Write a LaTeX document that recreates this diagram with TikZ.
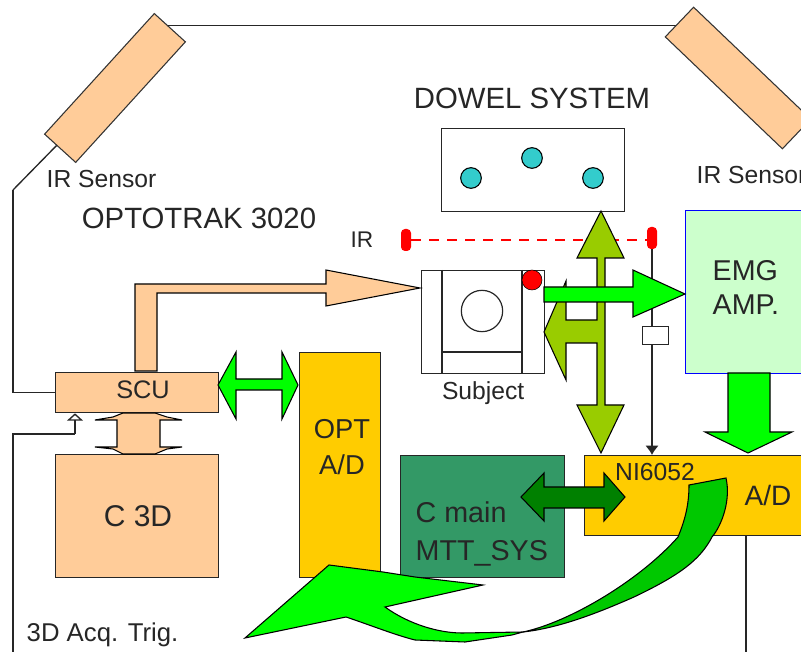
\documentclass[tikz,border=0pt]{standalone}
\usepackage{fontspec}
\setmainfont{Liberation Sans}
\usepackage{xcolor}
\usetikzlibrary{arrows.meta, positioning, calc}
\definecolor{peach}{HTML}{FFCC99}
\definecolor{goldbox}{HTML}{FFCC00}
\definecolor{seagreen}{HTML}{339966}
\definecolor{palegreen}{HTML}{CCFFCC}
\definecolor{limearrow}{HTML}{00FF00}
\definecolor{olivearrow}{HTML}{99CC00}
\definecolor{darkarrow}{HTML}{008000}
\definecolor{curvegreen}{HTML}{00C800}
\definecolor{dowel}{HTML}{33CCCC}
\begin{document}
\begin{tikzpicture}[
    x=0.75pt, y=-0.75pt,
    size/.style 2 args={minimum width=#1*0.75pt, minimum height=#2*0.75pt},
    box/.style={rectangle, draw=black!85, line width=1pt, anchor=north west, inner sep=0pt},
    sensor/.style={rectangle, draw=black!80, fill=peach, line width=0.8pt, inner sep=0pt},
    dot/.style={circle, draw=black, fill=dowel, line width=0.8pt, minimum size=15.5pt, inner sep=0pt},
    irdot/.style={rectangle, rounded corners=3pt, fill=red, size={10}{22}, inner sep=0pt},
    wire/.style={draw=black!85, line width=1pt},
    bigarrow/.style={draw=black, line width=0.8pt, line join=miter},
    label/.style={font=\fontsize{21}{26}\selectfont, text=black!85, align=center},
    small/.style={font=\fontsize{18.5}{22}\selectfont, text=black!85}
]
    \useasboundingbox (0,0) rectangle (801,652);

    % Frame wires
    \coordinate (frameB) at (13,190);
    \coordinate (frameC) at (60,142);
    \coordinate (frameD) at (160,25.5);
    \coordinate (frameE) at (690,25.5);
    \draw[wire] (frameD) -- (frameE);
    \draw[wire] (frameC) -- (frameB);

    % IR sensors
    \node[sensor, size={163}{42}, rotate=47.7] (sensorL) at (115,88) {};
    \node[sensor, size={162}{41}, rotate=-43.7] (sensorR) at (738,78) {};
    \node[small, anchor=west] (sensorLtxt) at (42,179) {IR Sensor};
    \node[small, anchor=west] (sensorRtxt) at (692,175) {IR Sensor};

    \node[label, font=\fontsize{22}{26}\selectfont] (optotrak) at (199,218) {OPTOTRAK 3020};
    \node[label, font=\fontsize{22}{26}\selectfont] (dowelTxt) at (532,98) {DOWEL SYSTEM};
    \node[small, font=\fontsize{17}{20}\selectfont] (irTxt) at (362,240) {IR};

    % Dowel system
    \node[box, size={183}{83}] (dowelBox) at (441,128) {};
    \foreach \px/\py/\pname in {471/178/dowelA, 532/158/dowelB, 593/178/dowelC}
        \node[dot] (\pname) at (\px,\py) {};

    % Boxes
    \node[box, fill=peach, size={163}{40}] (scu) at (55,372) {};
    \node[label, font=\fontsize{19}{22}\selectfont] (scuTxt) at (143,390) {SCU};
    \node[box, fill=peach, size={163}{123}] (c3d) at (55,454) {};
    \node[label, font=\fontsize{22.5}{26}\selectfont] (c3dTxt) at (138,516) {C 3D};
    \node[box, fill=goldbox, size={81}{225}] (optad) at (299,352) {};
    \node[label, font=\fontsize{20.5}{27}\selectfont] (optadTxt) at (342,447) {OPT\\A/D};
    \node[box, fill=seagreen, size={164}{122}] (cmain) at (400,455) {};
    \node[label, font=\fontsize{21.5}{28}\selectfont, anchor=west, align=left] (cmainTxt) at (411,534) {C main\\MTT\_SYS};
    \node[box, fill=goldbox, size={240}{80}] (nibox) at (584,455) {};
    \node[small] (niTxt) at (655,472) {NI6052};
    \node[label, font=\fontsize{21}{26}\selectfont] (niadTxt) at (768,495) {A/D};
    \node[box, draw=blue, fill=palegreen, size={140}{163}] (emg) at (685,210) {};
    \node[label, font=\fontsize{21.5}{25.5}\selectfont, anchor=west, align=left] (emgTxt) at (708,287) {EMG\\AMP.};

    % Wires to SCU and A/D
    \draw[wire] (frameB) |- (scu.west);
    \coordinate (trigPt) at (75,434);
    \draw[wire] (13,652) |- (trigPt);
    \draw[wire, -{Triangle[open,fill=white,length=5.5pt,width=12pt]}] (trigPt) -- (trigPt |- scu.south);
    \draw[wire] (nibox.south -| 746,0) -- (746,652);
    \node[small, font=\fontsize{19.3}{22}\selectfont, anchor=west] (trigTxt) at (22,635) {3D Acq. Trig.};

    % Subject unit
    \node[box, size={123}{103}] (subject) at (421,270) {};
    \draw[wire] (442,270) -- (442,373);
    \draw[wire] (522,270) -- (522,373);
    \draw[wire] (442,352) -- (522,352);
    \node[circle, draw=black!85, line width=0.9pt, minimum size=31pt, inner sep=0pt] (head) at (482,311) {};
    \node[small, below=2pt of subject] (subjectTxt) {Subject};

    % IR line
    \node[irdot] (irA) at (406,240) {};
    \node[irdot] (irB) at (652,238) {};
    \draw[red, line width=1pt, dash pattern=on 7.5pt off 6pt] (irA.east) -- (irA.east -| irB.west);
    \node[box, fill=white, size={26}{18}] (filt) at (642,326) {};
    \draw[wire] (irB.south) -- (irB.south |- filt.north);
    \draw[wire, -{Latex[length=7pt,width=10pt]}] (irB.south |- filt.south) -- (irB.south |- nibox.north);

    % Olive arrows
    \draw[bigarrow, fill=olivearrow] (601,211) -- (624,258) -- (605,258) -- (605,405) -- (624,405) -- (601,453) -- (577,405) -- (597,405) -- (597,343) -- (566,343) -- (566,380) -- (544,332) -- (566,281) -- (566,320) -- (597,320) -- (597,258) -- (577,258) -- cycle;
    \draw[bigarrow, fill=limearrow] (544,287) -- (633,287) -- (633,270) -- (685,294) -- (633,317) -- (633,302) -- (544,302) -- cycle;
    \node[circle, fill=red, draw=black, minimum size=15pt, inner sep=0pt] (marker) at (532,280) {};

    % Peach light path
    \draw[bigarrow, fill=peach] (135,371) -- (135,284) -- (326,284) -- (326,270) -- (420,288) -- (326,306) -- (326,293) -- (157,293) -- (157,371) -- cycle;

    % SCU to C 3D
    \draw[bigarrow, fill=peach] (123,413) -- (113,417) -- (95,420) -- (117,420) -- (117,447) -- (95,447) -- (113,449) -- (123,454) -- (155,454) -- (167,449) -- (182,447) -- (160,447) -- (160,420) -- (182,420) -- (167,417) -- (155,413) -- cycle;

    % SCU to OPT A/D
    \draw[bigarrow, fill=limearrow] (218,385) -- (236,352) -- (236,379) -- (282,379) -- (282,352) -- (298,385) -- (282,419) -- (282,390) -- (236,390) -- (236,419) -- cycle;

    % EMG to A/D
    \draw[bigarrow, fill=limearrow] (728,373) -- (728,432) -- (705,432) -- (748,453) -- (792,432) -- (770,432) -- (770,373) -- cycle;

    % C main to NI6052
    \draw[bigarrow, fill=darkarrow] (521,497) -- (544,473) -- (544,487) -- (604,487) -- (604,473) -- (625,497) -- (604,521) -- (604,508) -- (544,508) -- (544,521) -- cycle;

    % Curved return arrow
    \draw[bigarrow, fill=curvegreen] (726,478) .. controls (731,500) and (722,525) .. (712,537) .. controls (700,560) and (680,575) .. (634,597) .. controls (600,612) and (560,628) .. (523,632) .. controls (570,622) and (640,580) .. (678,537) .. controls (685,520) and (689,505) .. (689,485) -- cycle;
    \draw[bigarrow, fill=limearrow] (245,638) -- (329,565) -- (383,572) -- (415,577) -- (483,585) -- (385,607) .. controls (410,625) and (440,633) .. (462,633) -- (523,632) -- (512,635) -- (465,642) -- (415,640) .. controls (395,635) and (370,625) .. (346,617) -- cycle;
\end{tikzpicture}
\end{document}
